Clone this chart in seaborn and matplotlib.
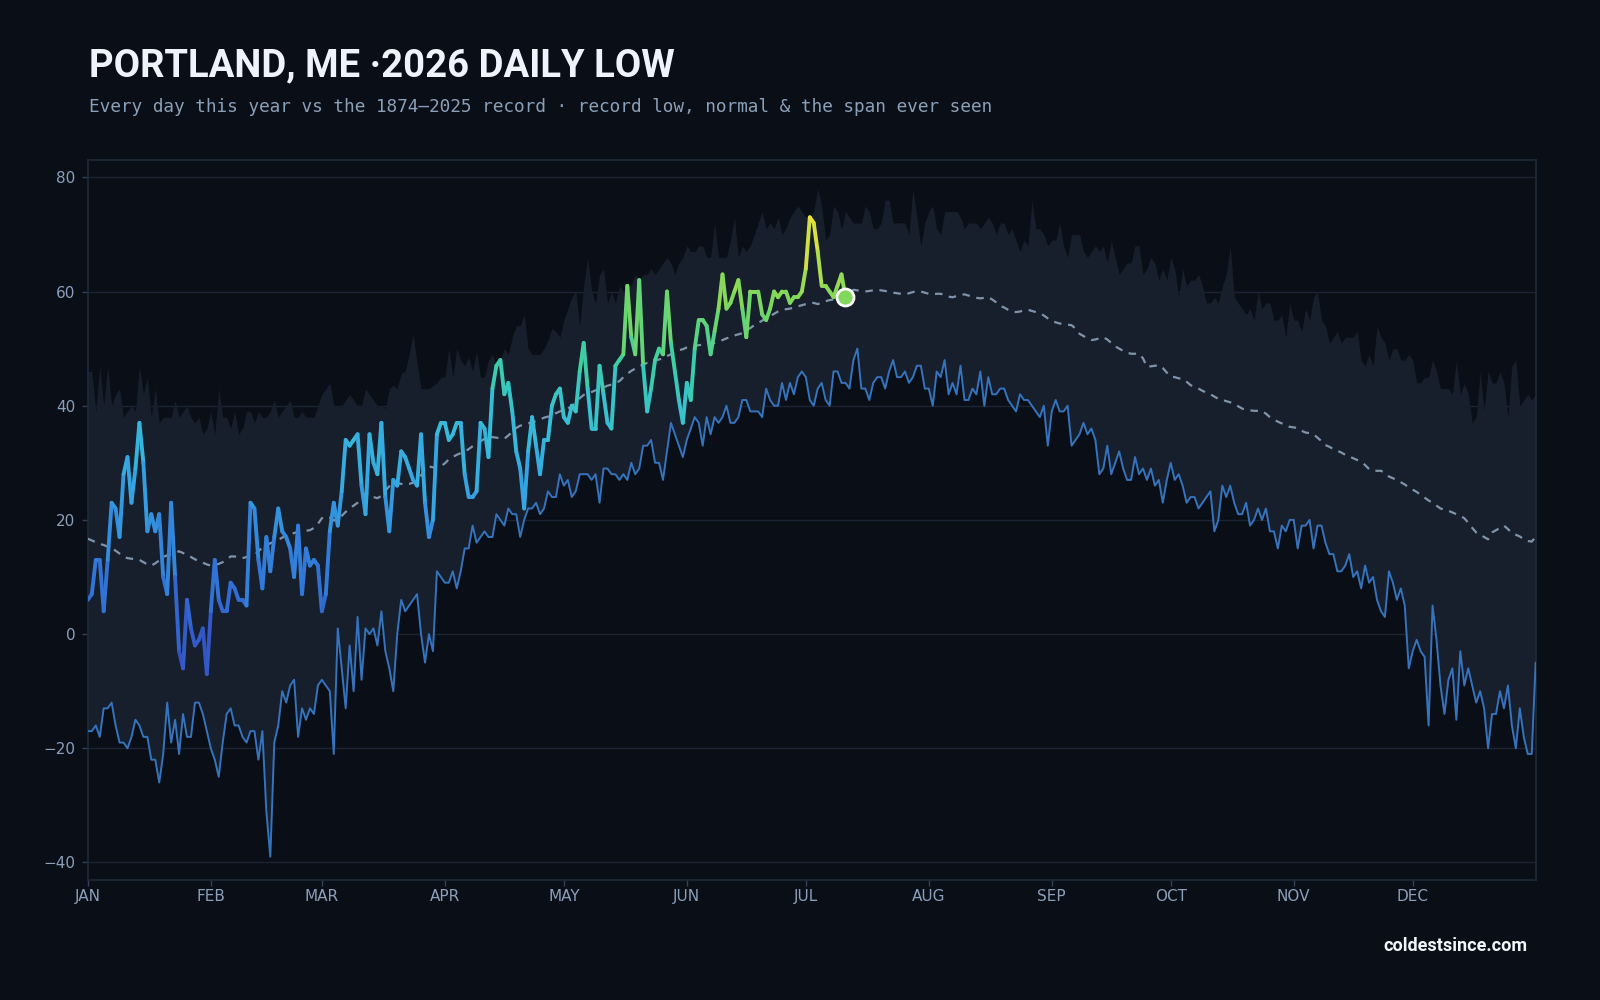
import numpy as np
import seaborn as sns
import matplotlib.pyplot as plt
from matplotlib.collections import LineCollection
from matplotlib.colors import LinearSegmentedColormap, Normalize

# ---- data (deg F, one value per day of year) ----
month_labels = ["JAN", "FEB", "MAR", "APR", "MAY", "JUN",
                "JUL", "AUG", "SEP", "OCT", "NOV", "DEC"]
month_starts = [0, 31, 59, 90, 120, 151, 181, 212, 243, 273, 304, 334]

# 2026 observed daily lows, Jan 1 -> Jul 11
low_2026 = [
    6, 7, 13, 13, 4, 13, 23, 22, 17, 28, 31, 23, 29, 37, 30, 18, 21, 18, 21, 10, 7, 23, 10, -3, -6, 6, 1, -2, -1, 1, -7,
    4, 13, 6, 4, 4, 9, 8, 6, 6, 5, 23, 22, 13, 8, 17, 11, 17, 22, 18, 17, 15, 10, 19, 7, 15, 12, 13, 12,
    4, 7, 18, 23, 19, 25, 34, 33, 34, 35, 26, 21, 35, 30, 28, 37, 24, 18, 27, 26, 32, 31, 29, 27, 26, 35, 23, 17, 20, 35, 37,
    37, 34, 35, 37, 37, 28, 24, 24, 25, 37, 36, 31, 43, 47, 48, 42, 44, 39, 32, 29, 22, 32, 38, 33, 28, 34, 34, 40, 42, 43,
    38, 37, 40, 39, 46, 51, 43, 36, 36, 47, 42, 37, 36, 47, 48, 49, 61, 52, 49, 62, 47, 39, 43, 48, 50, 49, 60, 51, 46, 41, 37,
    44, 41, 50, 55, 55, 54, 49, 53, 57, 63, 57, 58, 60, 62, 57, 52, 60, 60, 60, 56, 55, 57, 60, 59, 60, 60, 58, 59, 59, 60,
    64, 73, 72, 67, 61, 61, 60, 59, 61, 63, 59,
]

# record low for each calendar day, 1874-2025
record_low = [
    -17, -17, -16, -18, -13, -13, -12, -16, -19, -19, -20, -18, -15, -16, -18, -18, -22, -22, -26, -21,
    -12, -19, -15, -21, -14, -18, -18, -12, -12, -14, -17, -20, -22, -25, -19, -14, -13, -16, -16, -18,
    -19, -17, -17, -22, -17, -31, -39, -19, -16, -10, -12, -9, -8, -18, -13, -15, -13, -14, -9, -8,
    -9, -10, -21, 1, -6, -13, -2, -10, 3, -8, 1, 0, 1, -2, 4, -3, -6, -10, 0, 6,
    4, 5, 6, 7, 0, -5, 0, -3, 11, 10, 9, 9, 11, 8, 11, 15, 15, 19, 16, 17,
    18, 17, 17, 21, 20, 19, 22, 21, 21, 17, 20, 22, 22, 23, 21, 22, 25, 24, 24, 28,
    26, 27, 24, 25,
    28, 28, 28, 27, 28, 23, 29, 29, 28, 28, 27, 28, 27, 30, 28, 29, 33, 33, 34, 30,
    30, 27, 32, 37, 35, 33, 31, 34, 36, 38, 37, 33, 38, 35, 38, 37, 38, 40, 37, 37,
    38, 41, 41, 39, 39, 39, 38, 43, 41, 40, 40, 44, 41, 44, 42, 45, 46, 45, 41, 40, 43,
    44, 41, 40, 46, 46, 44, 44, 43, 48, 50, 43, 43, 41, 44, 45, 45, 43, 46, 48, 45,
    45, 46, 44, 45, 47, 47, 43, 43, 40, 46, 45, 48, 42, 44, 42, 47, 41, 41, 43, 42,
    46, 40, 45, 42, 42, 43, 43, 41, 40, 39, 42, 41, 41, 40, 39, 38, 40, 33, 39, 41, 39, 39,
    40, 33, 34, 35, 37, 35, 36, 34, 28, 29, 33, 28, 30, 32, 29, 27, 27, 31, 28, 29,
    27, 29, 26, 27, 23, 27, 30, 27, 28, 26, 23, 24, 24, 22, 23, 24, 25, 18, 20, 26,
    24, 26, 23, 21, 21, 23, 19, 20, 22, 20, 22, 18, 18, 15, 19, 18, 20, 20, 15, 19,
    19, 20, 15, 19, 19, 16, 14, 14, 11, 11, 12, 14, 10, 11, 8, 12, 9, 10, 6, 4,
    3, 11, 9, 6, 8, 5, -6, -3, -1, -3, -4, -16, 5, -1, -9, -14, -8, -6, -15, -3,
    -9, -6, -9, -12, -10, -13, -20, -14, -14, -10, -13, -9, -16, -20, -13, -18, -21, -21, -5,
]

# warmest low ever seen for each calendar day (top of the span)
record_high_low = [
    46, 46, 39, 47, 40, 47, 40, 42, 43, 38, 39, 40, 39, 47, 42, 45, 38, 43, 37, 38,
    38, 38, 41, 38, 39, 40, 38, 37, 38, 35, 36, 39, 35, 43, 38, 38, 36, 39, 35, 36,
    39, 39, 37, 39, 38, 38, 39, 41, 38, 39, 40, 41, 38, 38, 39, 38, 38, 38, 40, 42, 43, 44,
    40, 40, 40, 41, 42, 41, 40, 40, 43, 42, 41, 40, 40, 39.5, 43, 43.6, 43, 45.7, 46, 49,
    52.5, 47.5, 43, 43, 43, 43.5, 44, 45, 45, 50, 45, 50, 48, 47, 48.5, 46, 49.5, 45, 45, 48,
    49, 47, 48, 50, 49, 52, 54, 54, 56, 50, 49, 49, 49, 50, 51.5, 53.5, 53, 52, 55, 57, 59, 60,
    54, 61, 66, 60, 58, 63, 64, 58, 60, 58, 61, 60, 61, 61, 63, 62, 63, 63, 64, 63,
    64, 65, 66, 65, 63, 65, 66, 68, 67, 67, 68, 68, 66, 66, 72, 66, 66, 66, 69, 73,
    66, 68, 67, 68, 70, 72, 74, 71, 72, 71, 73, 70, 71, 73, 74, 75, 74, 73, 73, 74, 78,
    75, 69, 70, 75, 74, 71, 74, 73, 72, 72, 72, 75, 74, 71, 71, 72, 76, 76, 72, 72,
    72, 72, 70, 78, 73, 68, 72, 74, 75, 71, 70, 74, 74, 74, 74, 73, 71, 72, 72, 72,
    71, 72, 73, 72, 70, 72, 72, 70, 71, 69, 67, 69, 68, 76, 71, 71, 70, 68, 69, 69, 72, 68,
    66, 70, 70, 70, 67, 66, 67, 68, 67, 68, 65, 69, 66, 63, 64, 65, 65, 68, 68, 63,
    64, 66, 65, 62, 64, 62, 66, 64, 59, 64, 61, 62, 62, 63, 61, 58, 58, 59, 58, 61,
    63, 68, 59, 58, 57, 56, 57, 55, 60, 57, 58, 58, 55, 55, 56, 52, 58, 55, 55, 53,
    57, 55, 59, 60, 55, 54, 51, 52, 53, 51, 52, 52, 52, 53, 48, 47, 49, 47, 54, 52,
    51, 48, 50, 50, 48, 48, 49, 48, 44, 44, 45, 45, 48, 46, 43, 43, 43, 42, 48, 42,
    44, 42, 37, 38, 46, 39, 46, 44, 44, 46, 44, 38, 47, 48, 40, 41, 42, 41, 42,
]

# normal daily low
normal_low = [
    16.7, 16.4, 16.1, 15.8, 15.6, 15.3, 15.1, 14.6, 14.1, 13.6,
    13.3, 13.2, 13.1, 13.0, 12.6, 12.2, 12.0, 12.4, 12.9, 13.5,
    13.8, 14.0, 14.3, 14.5, 14.2, 13.9, 13.5, 13.1, 12.8, 12.5,
    12.2, 12.0, 12.1, 12.3, 12.6, 13.1, 13.6, 13.6, 13.4, 13.3,
    13.5, 13.6, 13.8, 14.5, 15.2, 15.6, 15.9, 16.2, 16.5, 16.9,
    17.2, 17.5, 17.7, 17.9, 18.0, 18.1, 18.2, 18.6, 19.3, 20.3,
    20.6, 20.4, 19.9, 20.2, 20.7, 21.4, 22.0, 22.5, 23.0, 23.8,
    24.6, 24.6, 24.0, 23.8, 24.2, 25.1, 25.9, 26.6, 26.5, 26.3,
    26.2, 26.3, 26.5, 26.8, 27.8, 28.8, 29.4, 29.2, 29.0, 29.4,
    29.9, 30.6, 31.0, 31.4, 31.7, 31.9, 32.4, 32.9, 33.4, 33.8,
    34.2, 34.6, 34.5, 34.4, 34.3, 34.2, 34.8, 35.4, 36.1, 36.5,
    36.7, 36.9, 37.1, 37.3, 37.6, 37.9, 38.1, 38.4, 38.7, 39.0,
    39.3, 39.5, 39.9, 40.6, 41.3, 41.9, 42.1, 42.4, 42.7, 42.9,
    43.2, 43.5, 43.7, 44.0, 44.3, 45.0, 45.6, 46.1, 46.5, 46.9,
    47.2, 47.5, 47.7, 47.9, 48.1, 48.3, 48.7, 49.0, 49.4, 49.7,
    49.9, 50.2, 50.4, 50.5, 50.6, 50.7, 50.8, 50.9, 51.0, 51.2,
    51.5, 51.8, 52.0, 52.3, 52.5, 52.7, 53.2, 53.6, 54.1, 54.5,
    54.9, 55.3, 55.7, 56.1, 56.5, 56.8, 56.9, 57.0, 57.2, 57.4,
    57.6, 57.8, 58.0, 58.0, 57.8, 58.0, 58.3, 58.5, 58.6, 58.7,
    58.8, 59.3, 59.8, 60.3, 60.2, 60.1, 60.0, 60.1, 60.2, 60.3,
    60.2, 60.1, 59.9, 59.8, 59.7, 59.6, 59.5, 59.7, 59.9, 60.1,
    60.0, 59.8, 59.6, 59.5, 59.6, 59.6, 59.4, 59.1, 59.0, 59.2,
    59.4, 59.5, 59.3, 59.1, 58.9, 58.8, 58.9, 59.0, 58.6, 58.1,
    57.5, 57.2, 56.8, 56.5, 56.4, 56.5, 56.7, 56.8, 56.6, 56.4,
    56.2, 55.8, 55.3, 54.9, 54.6, 54.4, 54.3, 54.2, 54.1, 53.5,
    52.6, 52.2, 51.8, 51.5, 51.6, 51.8, 52.0, 51.6, 51.0, 50.4,
    50.0, 49.6, 49.3, 49.1, 49.1, 49.1, 48.3, 46.8, 46.9, 47.0,
    47.1, 46.6, 45.8, 45.1, 45.0, 44.8, 44.7, 44.2, 43.6, 43.3,
    43.0, 42.6, 42.3, 42.0, 41.6, 41.2, 41.0, 40.8, 40.6, 40.3,
    39.9, 39.5, 39.3, 39.2, 39.1, 39.1, 39.1, 38.6, 38.0, 37.6,
    37.2, 36.9, 36.6, 36.3, 36.2, 36.1, 35.6, 35.3, 35.2, 35.0,
    34.4, 33.8, 33.1, 32.8, 32.4, 32.1, 31.8, 31.4, 31.1, 30.8,
    30.5, 30.2, 29.6, 28.9, 28.6, 28.6, 28.6, 28.2, 27.6, 27.3,
    27.0, 26.6, 26.2, 25.7, 25.3, 24.9, 24.4, 23.9, 23.4, 23.0,
    22.5, 22.0, 21.8, 21.6, 21.3, 21.0, 20.7, 20.3, 19.5, 18.6,
    17.8, 17.4, 17.0, 16.6, 17.8, 18.2, 18.6, 19.0, 18.4, 17.7,
    17.4, 17.1, 16.6, 16.3, 16.2, 17.0,
]

# ---- style ----
BG = "#0a0e16"
BAND = "#161f2b"
GRID = "#1a2434"
SPINE = "#1e2a3a"
TICK = "#8a9fba"
LOWLINE = "#3673bd"
NORMAL = "#8193ab"

sns.set_theme(style="dark", rc={
    "figure.facecolor": BG,
    "axes.facecolor": BG,
    "savefig.facecolor": BG,
    "axes.edgecolor": SPINE,
    "grid.color": GRID,
})
plt.rcParams["font.family"] = ["DejaVu Sans"]

temp_cmap = LinearSegmentedColormap.from_list("lowtemp", [
    (0.00, "#3a46b4"),
    (0.10, "#3358c8"),
    (0.25, "#3277d8"),
    (0.45, "#35a6e2"),
    (0.58, "#36bfd8"),
    (0.70, "#3dcfa2"),
    (0.83, "#80d85a"),
    (1.00, "#f2e43a"),
])
norm = Normalize(vmin=-10, vmax=73)

days = np.arange(len(record_low))
days_2026 = np.arange(len(low_2026))

fig = plt.figure(figsize=(16, 10), dpi=100)
ax = fig.add_axes([0.0549, 0.1204, 0.9049, 0.7194])

# span ever seen: record low up to warmest low
ax.fill_between(days, record_low, record_high_low, color=BAND, lw=0, zorder=1)

sns.lineplot(x=days, y=record_low, ax=ax, color=LOWLINE, lw=1.4, zorder=3)
sns.lineplot(x=days, y=normal_low, ax=ax, color=NORMAL, lw=1.6,
             linestyle=(0, (3.4, 3.0)), zorder=3)

# 2026 line coloured by temperature
pts = np.column_stack([days_2026, low_2026]).reshape(-1, 1, 2)
segs = np.concatenate([pts[:-1], pts[1:]], axis=1)
seg_vals = (np.array(low_2026[:-1]) + np.array(low_2026[1:])) / 2
lc = LineCollection(segs, colors=temp_cmap(norm(seg_vals)), linewidths=2.8,
                    capstyle="round", joinstyle="round", zorder=4)
ax.add_collection(lc)

ax.scatter([days_2026[-1]], [low_2026[-1]], s=150,
           color=temp_cmap(norm(low_2026[-1])), edgecolor="white",
           linewidth=2, zorder=6)

ax.set_xlim(0, 365)
ax.set_ylim(-43, 83)
ax.set_yticks([-40, -20, 0, 20, 40, 60, 80])
ax.set_yticklabels(["\u221240", "\u221220", "0", "20", "40", "60", "80"])
ax.set_xticks(month_starts)
ax.set_xticklabels(month_labels)
ax.set_xlabel("")
ax.set_ylabel("")
ax.grid(axis="y", color=GRID, lw=1)
ax.grid(axis="x", visible=False)
ax.tick_params(axis="both", colors=TICK, labelsize=11, length=4, width=1,
               direction="out")
ax.tick_params(axis="both", color="#33425a")
ax.tick_params(axis="x", bottom=True, pad=3)
ax.tick_params(axis="y", left=True, pad=5)
for s in ax.spines.values():
    s.set_visible(True)
    s.set_color(SPINE)
    s.set_linewidth(1.2)

fig.text(0.0555, 0.9235, "PORTLAND, ME \u00b72026 DAILY LOW", color="#eef4fb",
         fontsize=27.5, fontweight="bold", family=["Roboto", "DejaVu Sans"],
         va="baseline", ha="left")
fig.text(0.0555, 0.888,
         "Every day this year vs the 1874\u20132025 record \u00b7 record low, normal & the span ever seen",
         color="#8aa0b8", fontsize=12.8, family=["DejaVu Sans Mono"],
         va="baseline", ha="left")
fig.text(0.9548, 0.049, "coldestsince.com", color="#f2f6fb", fontsize=13,
         fontweight="bold", family=["Roboto", "DejaVu Sans"],
         va="baseline", ha="right")

fig.savefig("out.png", dpi=100, facecolor=BG)
